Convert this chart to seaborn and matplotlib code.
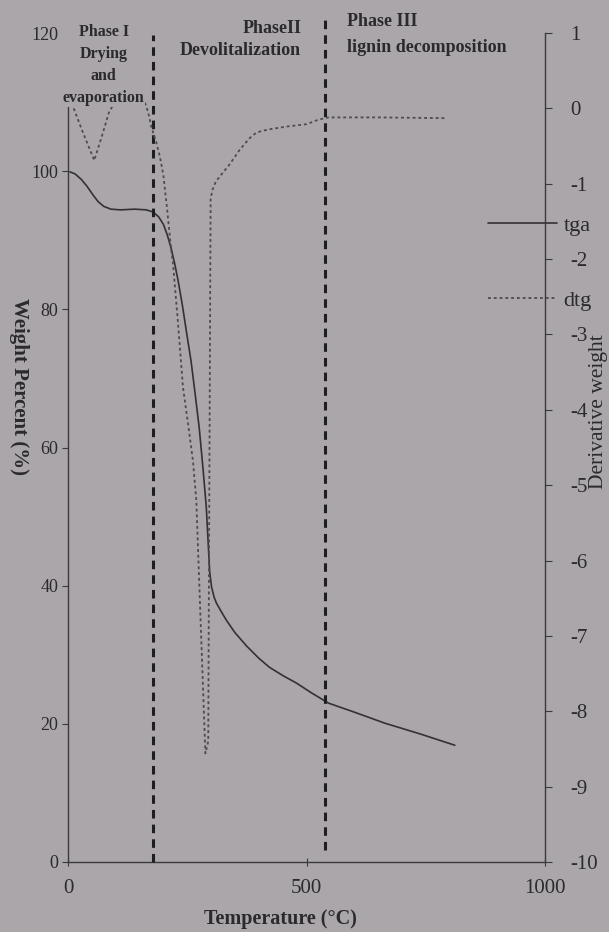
import matplotlib
matplotlib.use("Agg")
import matplotlib.pyplot as plt
import seaborn as sns

# ---------------- data ----------------
tga_temp = [4, 15, 28, 40, 52, 63, 75, 90, 110, 140, 164, 178, 190, 200, 208,
            216, 224, 231, 240, 250, 258, 267, 275, 283, 290, 294, 297, 301,
            306, 311, 320, 332, 350, 374, 400, 422, 450, 479, 510, 546, 600,
            664, 740, 811]
tga_weight = [99.9, 99.6, 98.8, 97.8, 96.6, 95.6, 94.9, 94.5, 94.4, 94.5, 94.4,
              94.1, 93.4, 92.3, 90.8, 88.9, 86.5, 84.1, 80.5, 76.0, 72.5, 67.5,
              62.9, 57.0, 51.3, 46.0, 42.0, 39.8, 38.4, 37.5, 36.4, 35.0, 33.2,
              31.3, 29.5, 28.2, 27.0, 25.9, 24.5, 23.0, 21.7, 20.1, 18.5, 16.9]

dtg_temp = [12, 30, 55, 72, 86, 100, 120, 145, 160, 168, 175, 185, 193, 200,
            208, 216, 220, 230, 241, 252, 262, 269, 278, 288, 294, 297, 299,
            303, 310, 325, 338, 360, 380, 395, 420, 460, 500, 525, 546, 650, 790]
dtg_value = [0.0, -0.3, -0.69, -0.35, -0.05, 0.1, 0.12, 0.12, 0.1, -0.05,
             -0.25, -0.45, -0.65, -0.89, -1.35, -1.86, -2.05, -2.8, -3.7, -4.2,
             -4.68, -5.2, -6.8, -8.56, -8.4, -4.0, -1.2, -1.08, -0.97, -0.85,
             -0.75, -0.55, -0.4, -0.32, -0.28, -0.24, -0.21, -0.15, -0.12,
             -0.12, -0.13]

phase_bounds = [178, 538]
phase_labels = ["Phase I\nDrying\nand\nevaporation",
                "PhaseII\nDevolitalization",
                "Phase III\nlignin decomposition"]

left_ticks = [0, 20, 40, 60, 80, 100, 120]
right_ticks = [1, 0, -1, -2, -3, -4, -5, -6, -7, -8, -9, -10]
x_ticks = [0, 500, 1000]

# ---------------- style ----------------
bg = "#aaa6aa"
sns.set_style("ticks")
plt.rcParams["font.family"] = ["Liberation Serif", "DejaVu Serif"]
plt.rcParams["axes.facecolor"] = bg
plt.rcParams["figure.facecolor"] = bg
plt.rcParams["axes.unicode_minus"] = False

ink = "#2b2a2c"

fig = plt.figure(figsize=(6.09, 9.32), dpi=100)
ax1 = fig.add_axes([68 / 609, 1 - 862 / 932, 477 / 609, (862 - 33) / 932])
ax1.set_facecolor(bg)

sns.lineplot(x=tga_temp, y=tga_weight, ax=ax1, color="#333135", lw=1.2,
             label="tga", legend=False, zorder=3)

ax2 = ax1.twinx()
sns.lineplot(x=dtg_temp, y=dtg_value, ax=ax2, color="#4e4c50", lw=1.3,
             linestyle=(0, (1.6, 1.6)), label="dtg", legend=False, zorder=3)

# phase boundaries
ax1.vlines(phase_bounds[0], 0, 119.7, colors="#1e1d1f", lw=2.2,
           linestyles=(0, (2.8, 2.0)), clip_on=False, zorder=4)
ax1.vlines(phase_bounds[1], 1.7, 121.9, colors="#1e1d1f", lw=2.2,
           linestyles=(0, (2.8, 2.0)), clip_on=False, zorder=4)

# axes limits / ticks
ax1.set_xlim(0, 1000)
ax1.set_ylim(0, 120)
ax2.set_ylim(-10, 1)
ax1.set_xticks(x_ticks)
ax1.set_yticks(left_ticks)
ax2.set_yticks(right_ticks)

for ax in (ax1, ax2):
    ax.spines["top"].set_visible(False)
    for s in ax.spines.values():
        s.set_color("#3a393b")
        s.set_linewidth(1.0)
ax1.spines["right"].set_visible(False)
ax2.spines["left"].set_visible(False)
ax2.spines["bottom"].set_visible(False)

ax1.tick_params(axis="y", direction="out", length=4, width=0.8, color="#3a393b",
                labelsize=13, pad=3, labelcolor=ink)
ax1.tick_params(axis="x", direction="inout", length=6, width=0.8, color="#3a393b",
                labelsize=15, pad=9, labelcolor=ink)
ax2.tick_params(axis="y", direction="out", length=5, width=0.8, color="#3a393b",
                labelsize=15, pad=13, labelcolor=ink)

ax1.set_xlabel("")
ax1.set_ylabel("")
ax2.set_ylabel("")
fig.text(280 / 609, 1 - 919 / 932, "Temperature (°C)", ha="center",
         va="center", fontsize=14.5, fontweight="bold", color=ink)
fig.text(19 / 609, 1 - 387 / 932, "Weight Percent (%)", rotation=270,
         ha="center", va="center", fontsize=15, fontweight="bold", color=ink)
fig.text(589 / 609, 1 - 412 / 932, "Derivative weight", rotation=90,
         ha="left", va="center", fontsize=15.5, color=ink)

# phase annotations (Phase I box sits over the dtg line, as in the source)
ax2.text(75, 121.3, phase_labels[0], transform=ax1.transData, ha="center",
         va="top", fontsize=11.5, fontweight="bold", color=ink,
         linespacing=1.5, zorder=5,
         bbox=dict(boxstyle="square,pad=0.05", fc=bg, ec="none"))
ax1.text(489, 121.9, phase_labels[1], ha="right", va="top", fontsize=13,
         fontweight="bold", color=ink, linespacing=1.4, zorder=5)
ax1.text(584, 122.9, phase_labels[2], ha="left", va="top", fontsize=13,
         fontweight="bold", color=ink, linespacing=1.7, zorder=5)

# legend
handles = [ax1.lines[0], ax2.lines[0]]
leg = fig.legend(handles, ["tga", "dtg"], loc="upper left",
                 bbox_to_anchor=(488 / 609, 1 - 215 / 932), frameon=False,
                 fontsize=16, handlelength=3.1, handletextpad=0.3,
                 labelspacing=2.45, borderpad=0, borderaxespad=0)
for t in leg.get_texts():
    t.set_color(ink)

fig.savefig("out.png", dpi=100, facecolor=bg)
